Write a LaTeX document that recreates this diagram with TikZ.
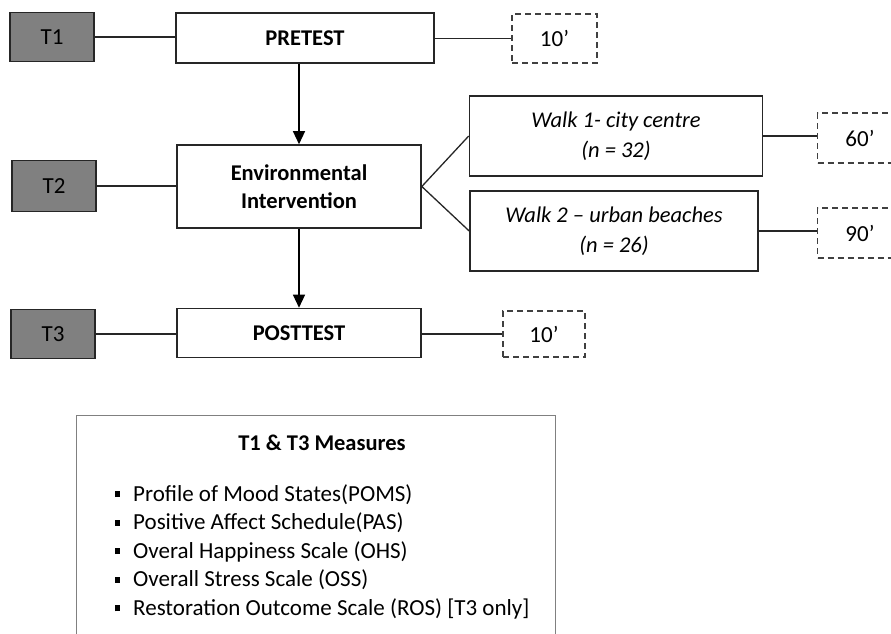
\documentclass[tikz,border=0pt]{standalone}
\usepackage{fontspec}
\setmainfont{Carlito}
\usepackage{tikz}
\usetikzlibrary{calc,arrows.meta}
\tikzstyle{timebox} = [rectangle, minimum width=84pt, minimum height=49pt, text centered, draw=black!85, line width=1.6pt, fill=black!50, font=\fontsize{23}{26}\selectfont]
\tikzstyle{stage} = [rectangle, minimum width=244pt, minimum height=49pt, text centered, align=center, draw=black!85, line width=1.6pt, fill=white, font=\bfseries\fontsize{22.5}{28.5}\selectfont]
\tikzstyle{walkbox} = [rectangle, minimum height=80pt, text centered, align=center, draw=black!85, line width=1.6pt, font=\itshape\fontsize{22.5}{30}\selectfont]
\tikzstyle{dur} = [rectangle, dashed, dash pattern=on 6pt off 4pt, minimum width=85pt, minimum height=49pt, text centered, draw=black!75, line width=1.3pt, font=\fontsize{23}{26}\selectfont]
\tikzstyle{link} = [line width=1.3pt, draw=black!85]
\tikzstyle{arrow} = [line width=1.3pt, -{Triangle[length=13pt,width=12pt]}]
\begin{document}
\begin{tikzpicture}[x=1pt,y=-1pt]
\useasboundingbox (0,0) rectangle (891,633);
\clip (0,0) rectangle (891,633);
\node (t1) [timebox] at (52,37) {T1};
\node (pre) [stage, minimum width=258pt, minimum height=50pt] at (305,38) {PRETEST};
\node (d1) [dur] at (554.5,38.5) {10’};
\node (t2) [timebox, minimum height=51pt] at (54,186) {T2};
\node (env) [stage, minimum height=83pt] at (299,186.5) {Environmental\\Intervention};
\node (walk1) [walkbox, minimum width=293pt] at (616,136) {Walk 1- city centre\\(\textit{n} = 32)};
\node (walk2) [walkbox, minimum width=288pt] at (614,231) {Walk 2 – urban beaches\\(\textit{n} = 26)};
\node (d2) [dur, minimum height=50pt] at (860,138) {60’};
\node (d3) [dur, minimum height=50pt] at (860,233) {90’};
\node (t3) [timebox] at (53,334) {T3};
\node (post) [stage] at (299,333) {POSTTEST};
\node (d4) [dur, minimum width=82pt, minimum height=46pt] at (544,334) {10’};
\draw [link] (t1) -- (t1 -| pre.west);
\draw [link] (pre.east |- d1) -- (d1);
\draw [arrow] (pre.south -| env.north) -- (env.north);
\draw [link] (t2) -- (t2 -| env.west);
\draw [link] (walk1.west) -- (env.east) -- (walk2.west);
\draw [link] (walk1.east) -- (walk1.east -| d2.west);
\draw [link] (walk2.east) -- (walk2.east -| d3.west);
\draw [arrow] (env.south) -- (post.north);
\draw [link] (t3) -- (t3 -| post.west);
\draw [link] (post.east |- d4) -- (d4);
% measures box
\node (meas) [draw=black!50, line width=1.4pt, minimum width=479pt, minimum height=250pt, anchor=north west] at (76,415) {};
\node (title) [font=\bfseries\fontsize{22.5}{26}\selectfont] at (322,443) {T1 \& T3 Measures};
\node (list) [anchor=north west, align=left, inner sep=0pt, font=\fontsize{23}{28.6}\selectfont] at (115,484) {%
\rule[4pt]{5pt}{6pt}\hspace{13pt}Profile of Mood States(POMS)\\
\rule[4pt]{5pt}{6pt}\hspace{13pt}Positive Affect Schedule(PAS)\\
\rule[4pt]{5pt}{6pt}\hspace{13pt}Overal Happiness Scale (OHS)\\
\rule[4pt]{5pt}{6pt}\hspace{13pt}Overall Stress Scale (OSS)\\
\rule[4pt]{5pt}{6pt}\hspace{13pt}Restoration Outcome Scale (ROS) [T3 only]};
\end{tikzpicture}
\end{document}
